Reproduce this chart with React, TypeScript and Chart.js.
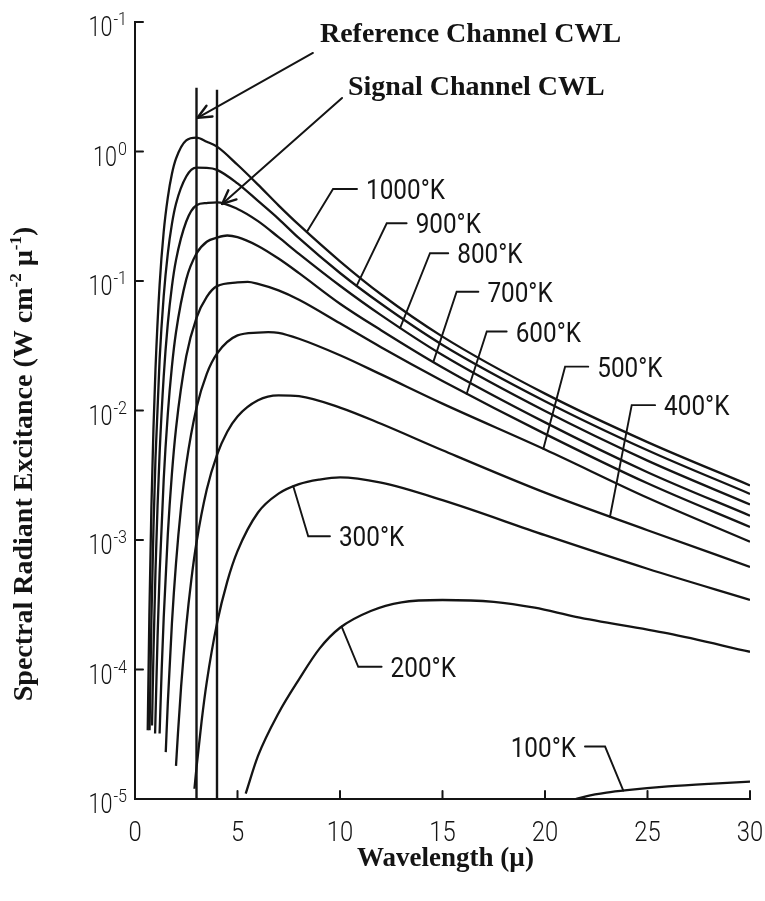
import { useEffect, useRef } from "react";
import { Chart, registerables } from "chart.js";

Chart.register(...registerables);

// ---------- data (wavelength in µ, spectral radiant excitance in W cm^-2 µ^-1) ----------
const wl1000 = [0.62, 0.7, 0.8, 0.9, 1.0, 1.2, 1.4, 1.6, 1.8, 2.0, 2.5, 3.0, 3.5, 4.0, 5.0, 6.0, 7.0, 8.0, 10, 12, 15, 20, 25, 30];
const m1000 = [3.4e-5, 2.6e-4, 1.8e-3, 7.2e-3, 0.021, 0.093, 0.24, 0.44, 0.67, 0.88, 1.22, 1.28, 1.19, 1.09, 0.79, 0.555, 0.384, 0.271, 0.142, 0.079, 0.0372, 0.0135, 0.0057, 0.00264];

const wl900 = [0.71, 0.8, 0.9, 1.0, 1.2, 1.4, 1.6, 1.8, 2.0, 2.5, 3.0, 3.5, 4.0, 5.0, 6.0, 7.0, 8.0, 10, 12, 15, 20, 25, 30];
const m900 = [3.4e-5, 2.4e-4, 1.22e-3, 4.3e-3, 0.0246, 0.0764, 0.163, 0.275, 0.395, 0.641, 0.75, 0.748, 0.722, 0.567, 0.415, 0.302, 0.214, 0.1153, 0.0667, 0.0321, 0.0118, 0.00493, 0.00227];

const wl800 = [0.83, 0.9, 1.0, 1.1, 1.2, 1.4, 1.6, 1.8, 2.0, 2.5, 3.0, 3.5, 4.0, 5.0, 6.0, 7.0, 8.0, 10, 12, 15, 20, 25, 30];
const m800 = [3.7e-5, 1.33e-4, 5.8e-4, 1.84e-3, 4.66e-3, 0.0183, 0.0468, 0.0906, 0.145, 0.288, 0.385, 0.4, 0.405, 0.36, 0.29, 0.218, 0.162, 0.0919, 0.0545, 0.0268, 0.0099, 0.0041, 0.00188];

const wl700 = [0.98, 1.1, 1.2, 1.4, 1.6, 1.8, 2.0, 2.5, 3.0, 3.5, 4.0, 4.5, 5.0, 6.0, 7.0, 8.0, 10, 12, 15, 20, 25, 30];
const m700 = [3.2e-5, 1.78e-4, 5.5e-4, 2.93e-3, 9.4e-3, 0.0218, 0.0402, 0.103, 0.163, 0.201, 0.216, 0.2245, 0.218, 0.1865, 0.149, 0.115, 0.0668, 0.0417, 0.0215, 0.0081, 0.00334, 0.00154];

const wl600 = [1.2, 1.3, 1.4, 1.6, 1.8, 2.0, 2.5, 3.0, 3.5, 4.0, 5.0, 5.5, 6.0, 7.0, 8.0, 10, 12, 15, 20, 25, 30];
const m600 = [3.2e-5, 9.8e-5, 2.5e-4, 1.1e-3, 3.24e-3, 7.26e-3, 0.0262, 0.052, 0.0755, 0.0913, 0.0975, 0.0985, 0.095, 0.0847, 0.0717, 0.0471, 0.0308, 0.0169, 0.0066, 0.00274, 0.00126];

const wl500 = [1.5, 1.6, 1.8, 2.0, 2.25, 2.5, 3.0, 3.5, 4.0, 5.0, 6.0, 6.5, 7.0, 8.0, 10, 12, 15, 20, 25, 30];
const m500 = [2.3e-5, 5.5e-5, 2.26e-4, 6.6e-4, 1.81e-3, 3.84e-3, 0.0105, 0.0192, 0.0275, 0.038, 0.04, 0.0403, 0.0398, 0.0358, 0.0267, 0.019, 0.0113, 0.005, 0.00212, 0.00097];

const wl400 = [2.0, 2.1, 2.25, 2.5, 2.75, 3.0, 3.5, 4.0, 4.5, 5.0, 6.0, 7.0, 8.0, 10, 12, 15, 20, 25, 30];
const m400 = [1.8e-5, 3.3e-5, 7.4e-5, 2.16e-4, 4.96e-4, 9.56e-4, 2.45e-3, 4.54e-3, 6.85e-3, 9.0e-3, 0.012, 0.0131, 0.0129, 0.01054, 0.0079, 0.00493, 0.00232, 0.00119, 0.00062];

const wl300 = [2.9, 3.0, 3.25, 3.5, 4.0, 4.5, 5.0, 6.0, 7.0, 8.0, 9.0, 10, 12, 15, 20, 25, 30];
const m300 = [1.2e-5, 1.75e-5, 4.0e-5, 8.0e-5, 2.27e-4, 4.77e-4, 8.2e-4, 1.63e-3, 2.28e-3, 2.7e-3, 2.93e-3, 3.05e-3, 2.77e-3, 2.03e-3, 1.09e-3, 6.0e-4, 3.45e-4];

const wl200 = [5.4, 6, 7, 8, 9, 10, 11.5, 13, 15, 17.5, 19.5, 21.5, 26, 30];
const m200 = [1.1e-5, 2.15e-5, 4.6e-5, 8.4e-5, 1.45e-4, 2.1e-4, 2.83e-4, 3.3e-4, 3.44e-4, 3.33e-4, 3.0e-4, 2.55e-4, 1.9e-4, 1.37e-4];

const wl100 = [21.5, 22, 23, 24, 26, 28, 30];
const m100 = [1.0e-5, 1.05e-5, 1.12e-5, 1.17e-5, 1.25e-5, 1.31e-5, 1.36e-5];

// channel centre wavelengths (vertical lines)
const cwlWl = [3.0, 4.0];
const cwlTop = [3.1, 3.0];

// ticks
const xTickValues = [0, 5, 10, 15, 20, 25, 30];
const yTickValues = [10, 1, 0.1, 0.01, 0.001, 0.0001, 0.00001];
const yTickExponents = ["-1", "0", "-1", "-2", "-3", "-4", "-5"];

// curve labels and leaders
const labelText = ["1000°K", "900°K", "800°K", "700°K", "600°K", "500°K", "400°K", "300°K", "200°K", "100°K"];
const leaderJunctionWl = [8.38, 10.81, 12.93, 14.55, 16.18, 19.92, 23.17, 7.72, 10.08, 23.82];
const leaderElbowWl = [9.66, 12.28, 14.39, 15.69, 17.16, 20.98, 24.23, 8.45, 10.89, 22.93];
const leaderElbowM = [0.513, 0.279, 0.164, 0.0826, 0.0407, 0.0218, 0.011, 1.07e-3, 1.05e-4, 2.54e-5];
const leaderEndWl = [10.83, 13.25, 15.28, 16.75, 18.13, 22.11, 25.37, 9.51, 12.03, 21.95];
const labelSide = ["r", "r", "r", "r", "r", "r", "r", "r", "r", "l"];

// arrow call-outs
const calloutText = ["Reference Channel CWL", "Signal Channel CWL"];
const calloutTextWl = [9.02, 10.39];
const calloutTextM = [7.0, 2.73];
const arrowStartWl = [8.68, 10.1];
const arrowStartM = [5.77, 2.59];
const arrowTipWl = [3.05, 4.25];
const arrowTipM = [1.82, 0.394];

const xTitle = "Wavelength (µ)";
const yTitleRuns = [
  { t: "Spectral Radiant Excitance (W cm", sup: false },
  { t: "-2", sup: true },
  { t: " µ", sup: false },
  { t: "-1", sup: true },
  { t: ")", sup: false },
];

const curves = [
  { wl: wl1000, m: m1000 },
  { wl: wl900, m: m900 },
  { wl: wl800, m: m800 },
  { wl: wl700, m: m700 },
  { wl: wl600, m: m600 },
  { wl: wl500, m: m500 },
  { wl: wl400, m: m400 },
  { wl: wl300, m: m300 },
  { wl: wl200, m: m200 },
  { wl: wl100, m: m100 },
];

const INK = "#141414";
const SANS = "Roboto, 'DejaVu Sans', sans-serif";
const SERIF = "'Liberation Serif', 'DejaVu Serif', serif";

function drawText(ctx: CanvasRenderingContext2D, s: string, x: number, y: number, font: string, sx: number, align: string) {
  ctx.save();
  ctx.font = font;
  ctx.textAlign = "left";
  ctx.textBaseline = "alphabetic";
  const w = ctx.measureText(s).width * sx;
  const x0 = align === "center" ? x - w / 2 : align === "right" ? x - w : x;
  ctx.translate(x0, y);
  ctx.scale(sx, 1);
  ctx.fillText(s, 0, 0);
  ctx.restore();
  return w;
}

function measure(ctx: CanvasRenderingContext2D, s: string, font: string, sx: number) {
  ctx.save();
  ctx.font = font;
  const w = ctx.measureText(s).width * sx;
  ctx.restore();
  return w;
}

function curveYAt(chart: any, di: number, xPix: number) {
  const pts = chart.getDatasetMeta(di).data as any[];
  for (let i = 0; i < pts.length - 1; i++) {
    const p0 = pts[i];
    const p1 = pts[i + 1];
    if (xPix >= p0.x && xPix <= p1.x) {
      const c1x = p0.cp2x ?? p0.x, c1y = p0.cp2y ?? p0.y;
      const c2x = p1.cp1x ?? p1.x, c2y = p1.cp1y ?? p1.y;
      const bx = (t: number) => (1 - t) ** 3 * p0.x + 3 * (1 - t) ** 2 * t * c1x + 3 * (1 - t) * t * t * c2x + t ** 3 * p1.x;
      const by = (t: number) => (1 - t) ** 3 * p0.y + 3 * (1 - t) ** 2 * t * c1y + 3 * (1 - t) * t * t * c2y + t ** 3 * p1.y;
      let lo = 0, hi = 1;
      for (let k = 0; k < 40; k++) {
        const mid = (lo + hi) / 2;
        if (bx(mid) < xPix) lo = mid; else hi = mid;
      }
      return by((lo + hi) / 2);
    }
  }
  return null;
}

const annotationPlugin = {
  id: "annotations",
  afterDraw(chart: any) {
    const { ctx, chartArea: a } = chart;
    const xs = chart.scales.x;
    const ys = chart.scales.y;
    const px = (v: number) => xs.getPixelForValue(v);
    const py = (v: number) => ys.getPixelForValue(v);
    ctx.save();
    ctx.strokeStyle = INK;
    ctx.fillStyle = INK;
    ctx.lineCap = "round";
    const seg = (x1: number, y1: number, x2: number, y2: number, w: number) => {
      ctx.lineWidth = w;
      ctx.beginPath();
      ctx.moveTo(x1, y1);
      ctx.lineTo(x2, y2);
      ctx.stroke();
    };

    // tick marks (inside)
    yTickValues.forEach((v) => seg(a.left, py(v), a.left + 8, py(v), 2));
    xTickValues.forEach((v) => {
      if (v > 0) seg(px(v), a.bottom, px(v), a.bottom - 8, 2);
    });

    // x tick labels
    const xFont = `300 28px ${SANS}`;
    xTickValues.forEach((v) => drawText(ctx, String(v), px(v), a.bottom + 42, xFont, 0.85, "center"));

    // y tick labels 10^n
    const baseFont = `300 27px ${SANS}`;
    const expFont = `300 19px ${SANS}`;
    yTickValues.forEach((v, i) => {
      const yy = py(v);
      const right = a.left - 8;
      const ew = measure(ctx, yTickExponents[i], expFont, 0.85);
      drawText(ctx, yTickExponents[i], right, yy + 3, expFont, 0.85, "right");
      drawText(ctx, "10", right - ew - 1, yy + 14, baseFont, 0.8, "right");
    });

    // curve labels with leaders
    const lblFont = `400 27px ${SANS}`;
    labelText.forEach((s, i) => {
      const jx = px(leaderJunctionWl[i]);
      const jy = curveYAt(chart, i, jx) ?? py(leaderElbowM[i]);
      const ex = px(leaderElbowWl[i]);
      const ey = py(leaderElbowM[i]);
      const hx = px(leaderEndWl[i]);
      ctx.lineWidth = 1.9;
      ctx.beginPath();
      ctx.moveTo(jx, jy);
      ctx.lineTo(ex, ey);
      ctx.lineTo(hx, ey);
      ctx.stroke();
      if (labelSide[i] === "r") drawText(ctx, s, hx + 9, ey + 10, lblFont, 0.9, "left");
      else drawText(ctx, s, hx - 9, ey + 10, lblFont, 0.9, "right");
    });

    // arrows to the channel lines
    const coFont = `bold 28px ${SERIF}`;
    calloutText.forEach((s, i) => {
      drawText(ctx, s, px(calloutTextWl[i]), py(calloutTextM[i]), coFont, 1, "left");
      const sx = px(arrowStartWl[i]);
      const sy = py(arrowStartM[i]);
      const tx = px(arrowTipWl[i]);
      const ty = py(arrowTipM[i]);
      seg(sx, sy, tx, ty, 2);
      const ang = Math.atan2(sy - ty, sx - tx);
      const L = 15;
      const spread = 0.42;
      seg(tx, ty, tx + L * Math.cos(ang + spread), ty + L * Math.sin(ang + spread), 2.4);
      seg(tx, ty, tx + L * Math.cos(ang - spread), ty + L * Math.sin(ang - spread), 2.4);
    });

    // axis titles
    drawText(ctx, xTitle, (a.left + a.right) / 2 + 3, a.bottom + 67, `bold 27px ${SERIF}`, 1, "center");

    const mainFont = `bold 28px ${SERIF}`;
    const supFont = `bold 17px ${SERIF}`;
    let total = 0;
    yTitleRuns.forEach((r) => (total += measure(ctx, r.t, r.sup ? supFont : mainFont, 1)));
    ctx.save();
    ctx.translate(32, a.top + 442);
    ctx.rotate(-Math.PI / 2);
    let cx = -total / 2;
    yTitleRuns.forEach((r) => {
      const f = r.sup ? supFont : mainFont;
      const w = drawText(ctx, r.t, cx, r.sup ? -11 : 0, f, 1, "left");
      cx += w;
    });
    ctx.restore();

    ctx.restore();
  },
};

export default function App() {
  const ref = useRef<HTMLCanvasElement>(null);
  useEffect(() => {
    document.body.style.margin = "0";
    const canvas = ref.current;
    if (!canvas) return;
    const datasets: any[] = curves.map((c) => ({
      data: c.wl.map((x, i) => ({ x, y: c.m[i] })),
      borderColor: INK,
      borderWidth: 2.3,
      pointRadius: 0,
      fill: false,
      cubicInterpolationMode: "monotone",
    }));
    cwlWl.forEach((w, i) =>
      datasets.push({
        data: [
          { x: w, y: 1e-5 },
          { x: w, y: cwlTop[i] },
        ],
        borderColor: INK,
        borderWidth: 2.4,
        pointRadius: 0,
        fill: false,
        tension: 0,
      })
    );
    const chart = new Chart(canvas, {
      type: "line",
      data: { datasets },
      options: {
        animation: false,
        responsive: false,
        devicePixelRatio: 1,
        layout: { padding: { top: 22, right: 15, left: 0, bottom: 0 } },
        plugins: { legend: { display: false }, tooltip: { enabled: false } },
        scales: {
          x: {
            type: "linear",
            min: 0,
            max: 30,
            ticks: { display: false },
            grid: { display: false },
            border: { display: true, color: INK, width: 2 },
            afterFit: (s: any) => {
              s.height = 102;
            },
          },
          y: {
            type: "logarithmic",
            min: 1e-5,
            max: 10,
            ticks: { display: false },
            grid: { display: false },
            border: { display: true, color: INK, width: 2 },
            afterFit: (s: any) => {
              s.width = 135;
            },
          },
        },
      } as any,
      plugins: [annotationPlugin],
    });
    return () => chart.destroy();
  }, []);
  return <canvas ref={ref} width={765} height={901} style={{ display: "block", background: "#fff" }} />;
}
